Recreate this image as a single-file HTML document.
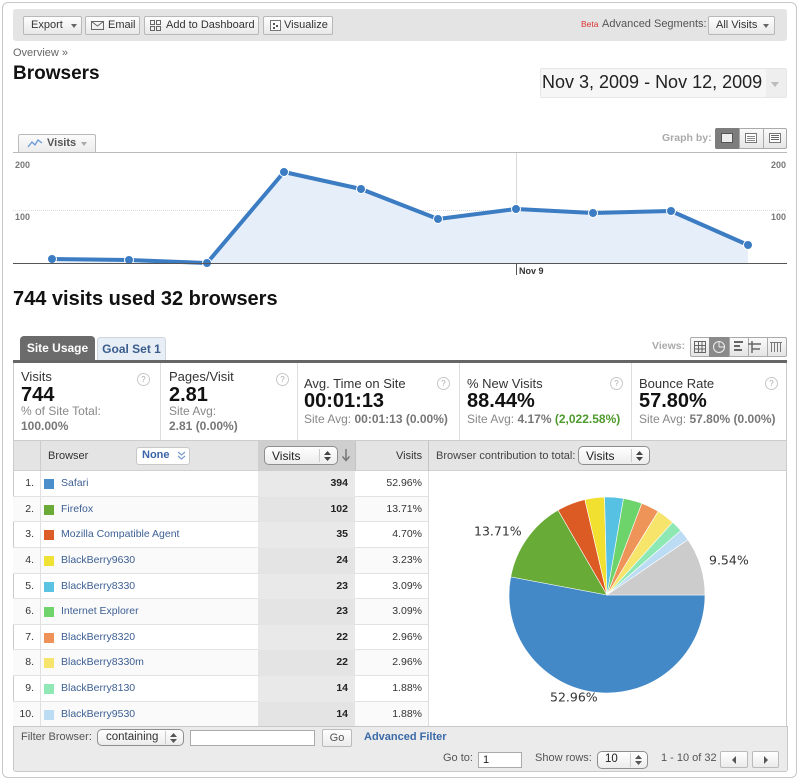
<!DOCTYPE html>
<html><head><meta charset="utf-8">
<style>
*{box-sizing:border-box;margin:0;padding:0}
body{width:800px;height:780px;overflow:hidden;background:#fff;font-family:"Liberation Sans",Arial,sans-serif;color:#333;position:relative}
.a{position:absolute;white-space:nowrap}
.btn{position:absolute;top:16px;height:19px;border:1px solid #b8b8b8;border-radius:2px;background:linear-gradient(#fefefe,#e8e8e8);font-size:11px;line-height:17px;color:#333;white-space:nowrap}
.tri{position:absolute;width:0;height:0;border-left:3.5px solid transparent;border-right:3.5px solid transparent;border-top:4px solid #666}
.help{position:absolute;width:13px;height:13px;border:1px solid #c8c8c8;border-radius:50%;font-size:8px;line-height:11px;text-align:center;color:#aaa;background:#fff}
.st{position:absolute;font-size:13px;color:#333;white-space:nowrap}
.sv{position:absolute;font-size:20px;font-weight:bold;color:#111;white-space:nowrap}
.ss{position:absolute;font-size:12px;color:#888;white-space:nowrap}
.ss b{color:#777}
.row{position:absolute;left:13px;width:415px;height:25.6px;border-bottom:1px solid #e2e2e2;font-size:10.5px;line-height:25px}
.row .bg{position:absolute;left:245px;width:97px;top:0;bottom:-1px;background:#e9e9e9}
.row .vl{position:absolute;left:27px;width:1px;top:0;bottom:0;background:#e0e0e0}
.row .rk{position:absolute;left:0;width:21px;text-align:right;color:#333}
.row i{position:absolute;left:31px;top:8px;width:10px;height:10px}
.row .nm{position:absolute;left:48px;color:#3d5f93;white-space:nowrap}
.row .vv{position:absolute;right:80px;font-weight:bold;color:#222}
.row .pc{position:absolute;right:6px;color:#333}
.sel{position:absolute;border:1px solid #8e8e8e;border-radius:5px;background:linear-gradient(#fff,#ececec);font-size:12px;color:#222;white-space:nowrap}
.inp{position:absolute;border:1px solid #aaa;background:#fff;font-size:11px}
.sb{position:absolute;border:1px solid #bbb;border-radius:2px;background:linear-gradient(#fff,#ebebeb);font-size:11px;color:#555;text-align:center}
</style></head><body>

<!-- outer frame -->
<div class="a" style="left:2px;top:2px;width:795px;height:776px;border:1px solid #c8c8c8;border-radius:6px"></div>

<!-- toolbar -->
<div class="a" style="left:13px;top:9px;width:774px;height:32px;background:#e4e4e4;border-radius:3px"></div>
<div class="btn" style="left:23px;width:59px"><span class="a" style="left:7px">Export</span><span class="tri" style="left:47px;top:7px"></span></div>
<div class="btn" style="left:85px;width:55px"><span class="a" style="left:5px;top:4px;width:13px;height:9px;border:1px solid #666"></span><svg class="a" style="left:5px;top:4px" width="13" height="9"><polyline points="0.5,0.5 6.5,5 12.5,0.5" fill="none" stroke="#666"/></svg><span class="a" style="left:22px">Email</span></div>
<div class="btn" style="left:144px;width:115px"><svg class="a" style="left:5px;top:3px" width="11" height="11"><rect x="0.5" y="0.5" width="4" height="4" fill="none" stroke="#666"/><rect x="6.5" y="0.5" width="4" height="4" fill="none" stroke="#666"/><rect x="0.5" y="6.5" width="4" height="4" fill="none" stroke="#666"/><rect x="6.5" y="6.5" width="4" height="4" fill="none" stroke="#666"/></svg><span class="a" style="left:21px">Add to Dashboard</span></div>
<div class="btn" style="left:263px;width:70px"><svg class="a" style="left:6px;top:3px" width="11" height="11"><rect x="0.5" y="0.5" width="10" height="10" fill="#fff" stroke="#777"/><rect x="3" y="3" width="2" height="2" fill="#555"/><rect x="6" y="5" width="2" height="2" fill="#555"/><rect x="3" y="7" width="2" height="2" fill="#555"/></svg><span class="a" style="left:20px">Visualize</span></div>
<span class="a" style="left:581px;top:19px;font-size:8.5px;color:#d33">Beta</span>
<span class="a" style="left:602px;top:18px;font-size:11px;color:#555">Advanced Segments:</span>
<div class="btn" style="left:708px;width:67px"><span class="a" style="left:7px">All Visits</span><span class="tri" style="left:54px;top:7px"></span></div>

<span class="a" style="left:13px;top:47px;font-size:11px;color:#666">Overview »</span>
<span class="a" style="left:13px;top:63px;font-size:19px;font-weight:bold;color:#111">Browsers</span>

<!-- date box -->
<div class="a" style="left:540px;top:68px;width:247px;height:30px;background:#f6f6f6;border:1px solid #e6e6e6;border-radius:2px"></div>
<div class="a" style="left:766px;top:69px;width:20px;height:28px;background:#eeeeee"></div>
<span class="tri" style="left:771px;top:82px;border-top-color:#bbb;border-left-width:4.5px;border-right-width:4.5px;border-top-width:5px"></span>
<span class="a" style="left:542px;top:72px;font-size:18px;color:#222">Nov 3, 2009 - Nov 12, 2009</span>

<!-- Visits tab + graph by -->
<div class="a" style="left:18px;top:134px;width:78px;height:19px;border:1px solid #bbb;border-bottom:none;border-radius:2px 2px 0 0;background:linear-gradient(#fbfbfb,#ebebeb)"></div>
<svg class="a" style="left:27px;top:139px" width="16" height="9"><polyline points="1,8 5,3 8,6 11,1 15,4" fill="none" stroke="#6a9ad6" stroke-width="1.3"/></svg>
<span class="a" style="left:47px;top:137px;font-size:11px;font-weight:bold;color:#555">Visits</span>
<span class="tri" style="left:81px;top:142px;border-top-color:#aaa"></span>
<div class="a" style="left:13px;top:152px;width:774px;height:1px;background:#bbb"></div>

<span class="a" style="left:662px;top:132px;font-size:10.5px;font-weight:bold;color:#aaa">Graph by:</span>
<div class="a" style="left:715px;top:128px;width:72px;height:21px;border:1px solid #aaa;border-radius:2px;background:linear-gradient(#fafafa,#e6e6e6)"></div>
<div class="a" style="left:715px;top:128px;width:24px;height:21px;background:#7d7d7d;border-radius:2px 0 0 2px"></div>
<div class="a" style="left:739px;top:129px;width:1px;height:19px;background:#aaa"></div>
<div class="a" style="left:763px;top:129px;width:1px;height:19px;background:#aaa"></div>
<div class="a" style="left:721px;top:133px;width:12px;height:10px;background:#eee;border:1px solid #555"></div>
<div class="a" style="left:745px;top:133px;width:12px;height:10px;background:#fff;border:1px solid #777"></div>
<div class="a" style="left:747px;top:136px;width:8px;height:1px;background:#888;box-shadow:0 2px 0 #888,0 4px 0 #888"></div>
<div class="a" style="left:769px;top:133px;width:12px;height:10px;background:#fff;border:1px solid #777"></div>
<div class="a" style="left:771px;top:135px;width:8px;height:1px;background:#666;box-shadow:0 2px 0 #666,0 4px 0 #666"></div>

<!-- line chart -->
<svg class="a" style="left:0;top:0" width="800" height="290">
 <line x1="13" y1="210.5" x2="787" y2="210.5" stroke="#dcdcdc" stroke-dasharray="1,1"/>
 <line x1="516.5" y1="153" x2="516.5" y2="263" stroke="#d8d8d8"/>
 <polygon fill="#e5eef9" points="52,263 52,259 129,260 207,263 284,172 361,189 438,219 516,209 593,213 671,211 748,245 748,263"/>
 <polyline fill="none" stroke="#3b7cc2" stroke-width="4" stroke-linejoin="round" points="52,259 129,260 207,263 284,172 361,189 438,219 516,209 593,213 671,211 748,245"/>
 <g fill="#3b7cc2" stroke="#fff" stroke-width="1">
  <circle cx="52" cy="259" r="4.5"/><circle cx="129" cy="260" r="4.5"/><circle cx="207" cy="263" r="4.5"/><circle cx="284" cy="172" r="4.5"/><circle cx="361" cy="189" r="4.5"/><circle cx="438" cy="219" r="4.5"/><circle cx="516" cy="209" r="4.5"/><circle cx="593" cy="213" r="4.5"/><circle cx="671" cy="211" r="4.5"/><circle cx="748" cy="245" r="4.5"/>
 </g>
 <line x1="13" y1="263.5" x2="787" y2="263.5" stroke="#555"/>
 <line x1="516.5" y1="263" x2="516.5" y2="275" stroke="#555"/>
 <g font-family="Liberation Sans, Arial, sans-serif" font-size="9" font-weight="bold" fill="#777">
  <text x="15" y="168">200</text><text x="15" y="220">100</text>
  <text x="786" y="168" text-anchor="end">200</text><text x="786" y="220" text-anchor="end">100</text>
  <text x="519" y="274" fill="#333">Nov 9</text>
 </g>
</svg>

<span class="a" style="left:13px;top:288px;font-size:20px;font-weight:bold;color:#111">744 visits used 32 browsers</span>

<!-- tabs -->
<div class="a" style="left:20px;top:336px;width:75px;height:25px;background:#6b6b6b;border-radius:4px 4px 0 0;color:#fff;font-size:12px;font-weight:bold;text-align:center;line-height:24px">Site Usage</div>
<div class="a" style="left:97px;top:337px;width:69px;height:24px;background:#e8eef5;border:1px solid #cfd6de;border-bottom:none;border-radius:3px 3px 0 0;color:#3b5d8e;font-size:12px;font-weight:bold;text-align:center;line-height:22px">Goal Set 1</div>
<span class="a" style="left:652px;top:340px;font-size:10.5px;font-weight:bold;color:#aaa">Views:</span>
<div class="a" style="left:690px;top:337px;width:97px;height:20px;border:1px solid #aaa;border-radius:2px;background:linear-gradient(#fafafa,#e4e4e4)"></div>
<div class="a" style="left:709px;top:337px;width:20px;height:20px;background:#8a8a8a"></div>
<div class="a" style="left:729px;top:338px;width:1px;height:18px;background:#aaa"></div>
<div class="a" style="left:748px;top:338px;width:1px;height:18px;background:#aaa"></div>
<div class="a" style="left:767px;top:338px;width:1px;height:18px;background:#aaa"></div>
<svg class="a" style="left:690px;top:337px" width="97" height="20">
 <g fill="none" stroke="#666"><rect x="4.5" y="4.5" width="11" height="11"/><line x1="4.5" y1="8.5" x2="15.5" y2="8.5"/><line x1="4.5" y1="12" x2="15.5" y2="12"/><line x1="8.5" y1="4.5" x2="8.5" y2="15.5"/><line x1="12" y1="4.5" x2="12" y2="15.5"/></g>
 <circle cx="29" cy="10" r="5.5" fill="none" stroke="#eee"/><line x1="29" y1="4.5" x2="29" y2="10" stroke="#eee"/><line x1="29" y1="10" x2="34.5" y2="10" stroke="#eee"/>
 <g stroke="#666" stroke-width="2"><line x1="44" y1="5" x2="53" y2="5"/><line x1="44" y1="9" x2="50" y2="9"/><line x1="44" y1="13" x2="52" y2="13"/></g>
 <g stroke="#666" stroke-width="1.5"><line x1="62" y1="4" x2="62" y2="16"/><line x1="58" y1="7" x2="71" y2="7"/><line x1="62" y1="12" x2="70" y2="12"/></g>
 <g stroke="#777"><line x1="81.5" y1="5" x2="81.5" y2="15"/><line x1="84.5" y1="5" x2="84.5" y2="15"/><line x1="87.5" y1="5" x2="87.5" y2="15"/><line x1="90.5" y1="5" x2="90.5" y2="15"/><line x1="80" y1="5.5" x2="92" y2="5.5"/></g>
</svg>
<div class="a" style="left:13px;top:360px;width:774px;height:3px;background:#666"></div>

<!-- stats row -->
<div class="a" style="left:13px;top:363px;width:774px;height:78px;border-left:1px solid #ccc;border-right:1px solid #ccc;border-bottom:1px solid #ccc"></div>
<div class="a" style="left:160px;top:363px;width:1px;height:77px;background:#ddd"></div>
<div class="a" style="left:297px;top:363px;width:1px;height:77px;background:#ddd"></div>
<div class="a" style="left:459px;top:363px;width:1px;height:77px;background:#ddd"></div>
<div class="a" style="left:631px;top:363px;width:1px;height:77px;background:#ddd"></div>

<span class="st" style="left:21px;top:369px">Visits</span>
<span class="sv" style="left:21px;top:384px">744</span>
<span class="ss" style="left:21px;top:404px">% of Site Total:</span>
<span class="ss" style="left:21px;top:419px"><b>100.00%</b></span>
<span class="help" style="left:137px;top:373px">?</span>

<span class="st" style="left:169px;top:369px">Pages/Visit</span>
<span class="sv" style="left:169px;top:384px">2.81</span>
<span class="ss" style="left:169px;top:404px">Site Avg:</span>
<span class="ss" style="left:169px;top:419px"><b>2.81 (0.00%)</b></span>
<span class="help" style="left:276px;top:373px">?</span>

<span class="st" style="left:304px;top:376px">Avg. Time on Site</span>
<span class="sv" style="left:304px;top:390px">00:01:13</span>
<span class="ss" style="left:304px;top:412px">Site Avg: <b>00:01:13 (0.00%)</b></span>
<span class="help" style="left:437px;top:377px">?</span>

<span class="st" style="left:467px;top:376px">% New Visits</span>
<span class="sv" style="left:467px;top:390px">88.44%</span>
<span class="ss" style="left:467px;top:412px">Site Avg: <b>4.17%</b> <b style="color:#4f9a2c">(2,022.58%)</b></span>
<span class="help" style="left:610px;top:377px">?</span>

<span class="st" style="left:639px;top:376px">Bounce Rate</span>
<span class="sv" style="left:639px;top:390px">57.80%</span>
<span class="ss" style="left:639px;top:412px">Site Avg: <b>57.80% (0.00%)</b></span>
<span class="help" style="left:765px;top:377px">?</span>

<!-- table header -->
<div class="a" style="left:13px;top:441px;width:774px;height:30px;background:#e4e4e4;border-left:1px solid #ccc;border-right:1px solid #ccc;border-bottom:1px solid #d0d0d0"></div>
<div class="a" style="left:40px;top:441px;width:1px;height:30px;background:#ccc"></div>
<div class="a" style="left:258px;top:441px;width:97px;height:30px;background:#cfcfcf"></div>
<div class="a" style="left:355px;top:441px;width:1px;height:30px;background:#c4c4c4"></div>
<div class="a" style="left:428px;top:441px;width:1px;height:30px;background:#c4c4c4"></div>
<span class="a" style="left:48px;top:450px;font-size:11px;color:#333">Browser</span>
<div class="a" style="left:136px;top:447px;width:54px;height:18px;background:#fff;border:1px solid #c8c8c8;border-radius:3px"></div>
<span class="a" style="left:142px;top:449px;font-size:11px;font-weight:bold;color:#3b64a8">None</span>
<svg class="a" style="left:177px;top:450px" width="9" height="11"><polyline points="1,2 4.5,5 8,2" fill="none" stroke="#7a9acc" stroke-width="1.2"/><polyline points="1,6 4.5,9 8,6" fill="none" stroke="#7a9acc" stroke-width="1.2"/></svg>
<div class="sel" style="left:264px;top:446px;width:74px;height:19px"><span class="a" style="left:7px;top:2px">Visits</span><div class="a" style="left:54px;top:2px;width:1px;height:13px;background:#ccc"></div><svg class="a" style="left:58px;top:3px" width="9" height="12"><polygon points="4.5,1 8,5 1,5" fill="#444"/><polygon points="4.5,11 8,7 1,7" fill="#444"/></svg></div>
<svg class="a" style="left:341px;top:448px" width="10" height="14"><line x1="5" y1="1" x2="5" y2="12" stroke="#777" stroke-width="1.5"/><polyline points="1.5,8.5 5,12.5 8.5,8.5" fill="none" stroke="#777" stroke-width="1.5"/></svg>
<span class="a" style="left:396px;top:450px;font-size:11px;color:#333">Visits</span>
<span class="a" style="left:436px;top:450px;font-size:11px;color:#444">Browser contribution to total:</span>
<div class="sel" style="left:578px;top:446px;width:72px;height:19px"><span class="a" style="left:7px;top:2px">Visits</span><div class="a" style="left:52px;top:2px;width:1px;height:13px;background:#ccc"></div><svg class="a" style="left:56px;top:3px" width="9" height="12"><polygon points="4.5,1 8,5 1,5" fill="#444"/><polygon points="4.5,11 8,7 1,7" fill="#444"/></svg></div>

<!-- table body frame -->
<div class="a" style="left:13px;top:471px;width:774px;height:256px;border-left:1px solid #ccc;border-right:1px solid #ccc"></div>
<div class="a" style="left:428px;top:471px;width:1px;height:256px;background:#ddd"></div>

<div class="row" style="top:471.2px"><div class="bg"></div><div class="vl"></div><span class="rk">1.</span><i style="background:#4a8fcb"></i><span class="nm">Safari</span><span class="vv">394</span><span class="pc">52.96%</span></div>
<div class="row" style="top:496.8px;background:#fafafa"><div class="bg" style="background:#e4e4e4"></div><div class="vl"></div><span class="rk">2.</span><i style="background:#6aab38"></i><span class="nm">Firefox</span><span class="vv">102</span><span class="pc">13.71%</span></div>
<div class="row" style="top:522.4px"><div class="bg"></div><div class="vl"></div><span class="rk">3.</span><i style="background:#dd5d28"></i><span class="nm">Mozilla Compatible Agent</span><span class="vv">35</span><span class="pc">4.70%</span></div>
<div class="row" style="top:548px;background:#fafafa"><div class="bg" style="background:#e4e4e4"></div><div class="vl"></div><span class="rk">4.</span><i style="background:#f0e234"></i><span class="nm">BlackBerry9630</span><span class="vv">24</span><span class="pc">3.23%</span></div>
<div class="row" style="top:573.6px"><div class="bg"></div><div class="vl"></div><span class="rk">5.</span><i style="background:#5cc3e3"></i><span class="nm">BlackBerry8330</span><span class="vv">23</span><span class="pc">3.09%</span></div>
<div class="row" style="top:599.2px;background:#fafafa"><div class="bg" style="background:#e4e4e4"></div><div class="vl"></div><span class="rk">6.</span><i style="background:#6fd46c"></i><span class="nm">Internet Explorer</span><span class="vv">23</span><span class="pc">3.09%</span></div>
<div class="row" style="top:624.8px"><div class="bg"></div><div class="vl"></div><span class="rk">7.</span><i style="background:#ee925a"></i><span class="nm">BlackBerry8320</span><span class="vv">22</span><span class="pc">2.96%</span></div>
<div class="row" style="top:650.4px;background:#fafafa"><div class="bg" style="background:#e4e4e4"></div><div class="vl"></div><span class="rk">8.</span><i style="background:#f6e46c"></i><span class="nm">BlackBerry8330m</span><span class="vv">22</span><span class="pc">2.96%</span></div>
<div class="row" style="top:676px"><div class="bg"></div><div class="vl"></div><span class="rk">9.</span><i style="background:#90e8b6"></i><span class="nm">BlackBerry8130</span><span class="vv">14</span><span class="pc">1.88%</span></div>
<div class="row" style="top:701.6px;background:#fafafa;border-bottom:none"><div class="bg" style="background:#e4e4e4"></div><div class="vl"></div><span class="rk">10.</span><i style="background:#bcdcf3"></i><span class="nm">BlackBerry9530</span><span class="vv">14</span><span class="pc">1.88%</span></div>

<!-- pie -->
<svg class="a" style="left:0;top:0" width="800" height="780">
 <g stroke="#fff" stroke-width="0.6" stroke-linejoin="round">
  <path d="M607,595 L705,595 A98,98 0 1 1 510.69,576.88 Z" fill="#4389c7"/>
  <path d="M607,595 L510.69,576.88 A98,98 0 0 1 558.02,510.12 Z" fill="#68ac37"/>
  <path d="M607,595 L558.02,510.12 A98,98 0 0 1 584.84,499.54 Z" fill="#dc5a24"/>
  <path d="M607,595 L584.84,499.54 A98,98 0 0 1 604.54,497.03 Z" fill="#f2e030"/>
  <path d="M607,595 L604.54,497.03 A98,98 0 0 1 623.49,498.40 Z" fill="#56c1e2"/>
  <path d="M607,595 L623.49,498.40 A98,98 0 0 1 641.81,503.39 Z" fill="#6dd46b"/>
  <path d="M607,595 L641.81,503.39 A98,98 0 0 1 658.15,511.41 Z" fill="#ef9458"/>
  <path d="M607,595 L658.15,511.41 A98,98 0 0 1 672.73,522.31 Z" fill="#f7e46a"/>
  <path d="M607,595 L672.73,522.31 A98,98 0 0 1 680.84,530.56 Z" fill="#8ee8b4"/>
  <path d="M607,595 L680.84,530.56 A98,98 0 0 1 687.91,539.71 Z" fill="#bcdcf4"/>
  <path d="M607,595 L687.91,539.71 A98,98 0 0 1 705,595 Z" fill="#cccccc"/>
 </g>
 <g font-family="DejaVu Sans, sans-serif" font-size="12.5" fill="#333">
  <text x="474" y="535.5">13.71%</text>
  <text x="709" y="564.5">9.54%</text>
  <text x="550" y="701.5">52.96%</text>
 </g>
</svg>

<!-- bottom bar -->
<div class="a" style="left:13px;top:726px;width:775px;height:46px;background:#ebebeb;border:1px solid #c8c8c8;border-radius:0 0 3px 3px"></div>
<span class="a" style="left:21px;top:731px;font-size:11px;color:#555">Filter Browser:</span>
<div class="sel" style="left:97px;top:729px;width:87px;height:17px;font-size:11.5px"><span class="a" style="left:8px;top:1px;color:#333">containing</span><div class="a" style="left:67px;top:1px;width:1px;height:13px;background:#ccc"></div><svg class="a" style="left:71px;top:2px" width="9" height="12"><polygon points="4.5,1 8,5 1,5" fill="#555"/><polygon points="4.5,11 8,7 1,7" fill="#555"/></svg></div>
<div class="inp" style="left:190px;top:730px;width:125px;height:16px"></div>
<div class="sb" style="left:322px;top:729px;width:30px;height:18px;line-height:16px">Go</div>
<span class="a" style="left:364px;top:731px;font-size:11px;font-weight:bold;color:#3a6aa8">Advanced Filter</span>

<span class="a" style="left:443px;top:752px;font-size:11px;color:#555">Go to:</span>
<div class="inp" style="left:478px;top:752px;width:44px;height:16px"><span class="a" style="left:4px;top:1px;font-size:11px;color:#222">1</span></div>
<span class="a" style="left:535px;top:752px;font-size:11px;color:#555">Show rows:</span>
<div class="sel" style="left:597px;top:751px;width:51px;height:18px;font-size:11.5px"><span class="a" style="left:7px;top:1px">10</span><div class="a" style="left:32px;top:1px;width:1px;height:14px;background:#ccc"></div><svg class="a" style="left:36px;top:2px" width="9" height="12"><polygon points="4.5,1 8,5 1,5" fill="#555"/><polygon points="4.5,11 8,7 1,7" fill="#555"/></svg></div>
<span class="a" style="left:661px;top:752px;font-size:11px;color:#555">1 - 10 of 32</span>
<div class="sb" style="left:720px;top:751px;width:28px;height:17px"><svg class="a" style="left:10px;top:4px" width="6" height="8"><polygon points="5,0 5,8 1,4" fill="#555"/></svg></div>
<div class="sb" style="left:752px;top:751px;width:27px;height:17px"><svg class="a" style="left:10px;top:4px" width="6" height="8"><polygon points="1,0 1,8 5,4" fill="#555"/></svg></div>

</body></html>
